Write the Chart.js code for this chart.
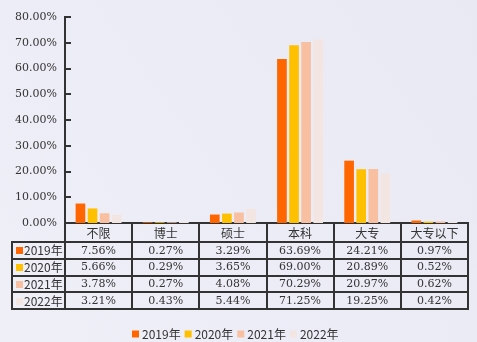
<!DOCTYPE html>
<html><head><meta charset="utf-8">
<script src="https://cdn.jsdelivr.net/npm/chart.js@4"></script>
<style>html,body{margin:0;padding:0;background:#ECECF5;}#c{display:block;}</style>
</head><body>
<canvas id="c" width="477" height="342"></canvas>
<script>
const categories = ['不限','博士','硕士','本科','大专','大专以下'];
const seriesLabels = ['2019年','2020年','2021年','2022年'];
const v2019 = [7.56, 0.27, 3.29, 63.69, 24.21, 0.97];
const v2020 = [5.66, 0.29, 3.65, 69.00, 20.89, 0.52];
const v2021 = [3.78, 0.27, 4.08, 70.29, 20.97, 0.62];
const v2022 = [3.21, 0.43, 5.44, 71.25, 19.25, 0.42];
const seriesColors = ['#FF6600','#FFC000','#F8BFA0','#F3E6E2'];
const yTicks = [0,10,20,30,40,50,60,70,80];

const seriesValues = [v2019, v2020, v2021, v2022];
const AX = '#333333';
const NUMFONT = '11px "DejaVu Serif"';
const CJKFONT = '"Noto Sans CJK SC"';

const bgPlugin = {
  id: 'bg',
  beforeDraw(chart) {
    const {ctx, width, height} = chart;
    const g = ctx.createLinearGradient(0, height, width, 0);
    g.addColorStop(0, '#EFEFF8');
    g.addColorStop(1, '#E9E9F4');
    ctx.save(); ctx.fillStyle = g; ctx.fillRect(0, 0, width, height); ctx.restore();
  }
};

const tablePlugin = {
  id: 'table',
  afterDraw(chart) {
    const {ctx, chartArea, width} = chart;
    const xs = chart.scales.x, ys = chart.scales.y;
    const n = categories.length;
    const left = chartArea.left, right = chartArea.right, bottom = chartArea.bottom;
    const cw = (right - left) / n;
    const headH = 19, rowH = 16.75;
    const tableLeft = 12;
    const rowTop = bottom + headH;
    const tableBottom = rowTop + rowH * seriesValues.length;
    ctx.save();
    // inward y ticks
    ctx.strokeStyle = AX; ctx.lineWidth = 2;
    yTicks.forEach(t => {
      const y = Math.round(ys.getPixelForValue(t));
      ctx.beginPath(); ctx.moveTo(left, y); ctx.lineTo(left + 6, y); ctx.stroke();
    });
    // vertical lines
    for (let i = 0; i <= n; i++) {
      const x = Math.round(left + i * cw);
      ctx.beginPath(); ctx.moveTo(x, bottom); ctx.lineTo(x, tableBottom + 1); ctx.stroke();
    }
    // left border
    ctx.beginPath(); ctx.moveTo(tableLeft, rowTop - 1); ctx.lineTo(tableLeft, tableBottom + 1); ctx.stroke();
    // horizontal lines
    for (let r = 0; r <= seriesValues.length; r++) {
      const y = Math.round(rowTop + r * rowH);
      ctx.beginPath(); ctx.moveTo(tableLeft - 1, y); ctx.lineTo(right + 1, y); ctx.stroke();
    }
    // header labels
    ctx.fillStyle = AX;
    ctx.textAlign = 'center'; ctx.textBaseline = 'middle';
    ctx.font = '12px ' + CJKFONT;
    categories.forEach((c, i) => {
      ctx.fillText(c, xs.getPixelForTick(i), bottom + headH / 2 + 0.5);
    });
    // rows
    seriesValues.forEach((vals, r) => {
      const cy = rowTop + r * rowH + rowH / 2 + 0.5;
      ctx.fillStyle = seriesColors[r];
      ctx.fillRect(tableLeft + 4, Math.round(cy - 3.5), 7, 7);
      ctx.fillStyle = AX;
      ctx.textAlign = 'left';
      ctx.font = '12px ' + CJKFONT;
      ctx.fillText(seriesLabels[r], tableLeft + 12, cy);
      ctx.textAlign = 'center';
      ctx.font = NUMFONT;
      vals.forEach((v, i) => {
        ctx.fillText(v.toFixed(2) + '%', xs.getPixelForTick(i), cy);
      });
    });
    // legend
    ctx.font = '12px ' + CJKFONT;
    ctx.textAlign = 'left';
    const box = 7, gap = 3, spacing = 4;
    const widths = seriesLabels.map(l => box + gap + ctx.measureText(l).width);
    const total = widths.reduce((a, b) => a + b, 0) + spacing * (widths.length - 1);
    let lx = Math.round(235 - total / 2);
    const ly = 334;
    seriesLabels.forEach((l, i) => {
      ctx.fillStyle = seriesColors[i];
      ctx.fillRect(lx, ly - 3.5, box, box);
      ctx.fillStyle = AX;
      ctx.fillText(l, lx + box + gap, ly);
      lx += widths[i] + spacing;
    });
    ctx.restore();
  }
};

new Chart(document.getElementById('c'), {
  type: 'bar',
  data: {
    labels: categories,
    datasets: seriesValues.map((vals, i) => ({
      label: seriesLabels[i],
      data: vals,
      backgroundColor: seriesColors[i],
      borderWidth: 0,
      categoryPercentage: 0.72,
      barPercentage: 0.8
    }))
  },
  options: {
    responsive: false,
    animation: false,
    devicePixelRatio: 1,
    layout: { padding: { top: 17, right: 9, left: 0, bottom: 0 } },
    plugins: {
      legend: { display: false },
      tooltip: { enabled: false }
    },
    scales: {
      x: {
        grid: { display: false, drawTicks: false },
        border: { display: true, color: AX, width: 2 },
        ticks: { display: false },
        afterFit(scale) { scale.height = 119; }
      },
      y: {
        min: 0, max: 80,
        afterBuildTicks(scale) { scale.ticks = yTicks.map(v => ({ value: v })); },
        grid: { display: false, drawTicks: false },
        border: { display: true, color: AX, width: 2 },
        ticks: {
          padding: 8, color: AX,
          font: { family: 'DejaVu Serif', size: 11 },
          callback: v => Number(v).toFixed(2) + '%'
        },
        afterFit(scale) { scale.width = 65; }
      }
    }
  },
  plugins: [bgPlugin, tablePlugin]
});
</script>
</body></html>
